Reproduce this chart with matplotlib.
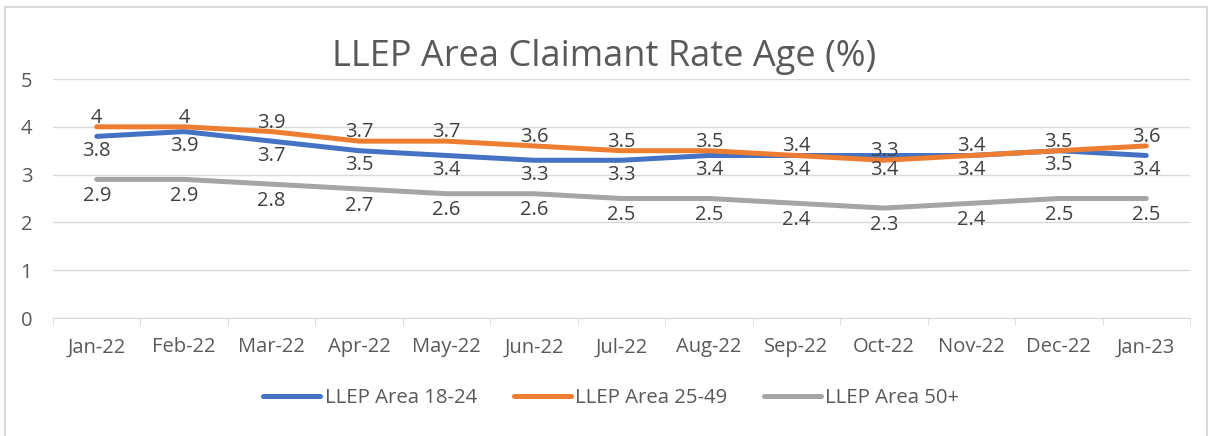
import matplotlib

matplotlib.use("Agg")
import matplotlib.pyplot as plt
from matplotlib.patches import Rectangle

months = ["Jan-22", "Feb-22", "Mar-22", "Apr-22", "May-22", "Jun-22", "Jul-22",
          "Aug-22", "Sep-22", "Oct-22", "Nov-22", "Dec-22", "Jan-23"]
age_18_24 = [3.8, 3.9, 3.7, 3.5, 3.4, 3.3, 3.3, 3.4, 3.4, 3.4, 3.4, 3.5, 3.4]
age_25_49 = [4, 4, 3.9, 3.7, 3.7, 3.6, 3.5, 3.5, 3.4, 3.3, 3.4, 3.5, 3.6]
age_50_plus = [2.9, 2.9, 2.8, 2.7, 2.6, 2.6, 2.5, 2.5, 2.4, 2.3, 2.4, 2.5, 2.5]

plt.rcParams["font.family"] = ["Open Sans", "DejaVu Sans"]
text_col = "#595959"

fig = plt.figure(figsize=(12.08, 4.36), dpi=100)
# chart-area border, runs off the bottom of the image like the original crop
border = Rectangle((0.0045, -0.05), 0.9945, 1.035, transform=fig.transFigure,
                   facecolor="white", edgecolor="#d9d9d9", linewidth=1.5, zorder=-10)
fig.patches.append(border)
ax = fig.add_axes([0.0439, 0.2706, 0.9412, 0.5482])
ax.set_facecolor("none")

x = list(range(len(months)))
# (label, values, colour, label offset in points)
series = [
    ("LLEP Area 18-24", age_18_24, "#4472C4", -10.5),
    ("LLEP Area 25-49", age_25_49, "#ED7D31", 6.5),
    ("LLEP Area 50+", age_50_plus, "#A5A5A5", -12),
]
for name, vals, col, off in series:
    ax.plot(x, vals, color=col, linewidth=3.6, solid_capstyle="round", label=name)

for name, vals, col, off in series:
    for xi, v in zip(x, vals):
        ax.annotate(f"{v:g}", (xi, v), xytext=(0, off), textcoords="offset points",
                    ha="center", va="center", fontsize=14.5, color="#404040")

ax.set_xlim(-0.5, len(months) - 0.5)
ax.set_ylim(0, 5)
ax.set_yticks([0, 1, 2, 3, 4, 5])
ax.grid(axis="y", color="#d9d9d9", linewidth=1)
ax.set_axisbelow(True)
ax.set_xticks(x)
ax.set_xticklabels(months)
ax.set_xticks([i - 0.5 for i in range(len(months) + 1)], minor=True)
ax.tick_params(axis="x", which="major", length=0, pad=14, labelsize=14.5, labelcolor=text_col)
ax.tick_params(axis="x", which="minor", length=5, color="#d9d9d9", direction="out")
ax.tick_params(axis="y", length=0, pad=15, labelsize=14.5, labelcolor=text_col)
for s in ["top", "right", "left"]:
    ax.spines[s].set_visible(False)
ax.spines["bottom"].set_color("#d9d9d9")

fig.text(0.5, 0.869, "LLEP Area Claimant Rate Age (%)", ha="center", va="center",
         fontsize=26, color=text_col)
fig.legend(loc="center", bbox_to_anchor=(0.506, 0.087), ncol=3, frameon=False,
           fontsize=14.7, labelcolor=text_col, handlelength=2.8, handletextpad=0.2,
           columnspacing=1.8)

fig.savefig("out.png", dpi=100)
